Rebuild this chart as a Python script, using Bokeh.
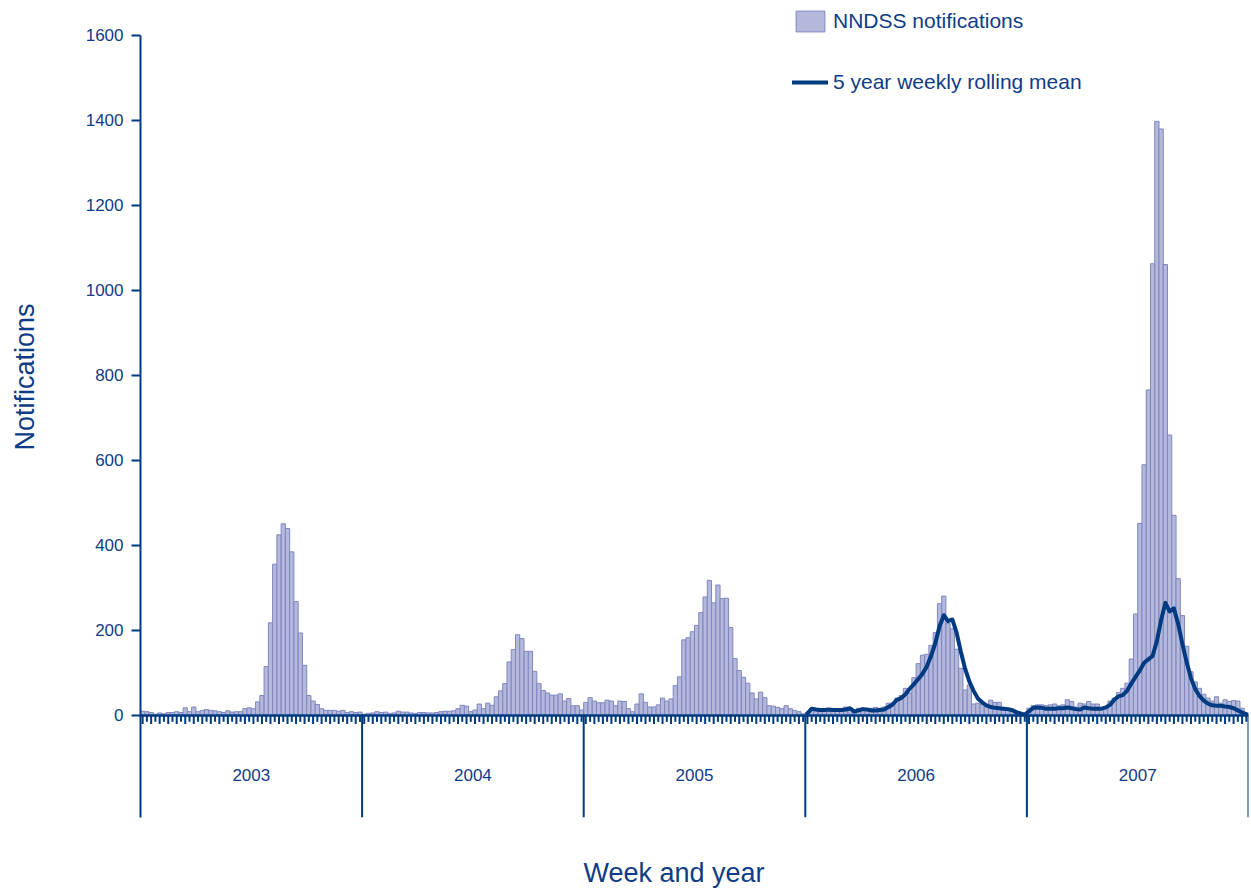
import numpy as np
from bokeh.plotting import figure
from bokeh.models import Range1d, FixedTicker, Span, Legend, LegendItem, Title
from bokeh.core.properties import value
from bokeh.embed import file_html
from bokeh.resources import INLINE

# ---------------- data ----------------
years = ["2003", "2004", "2005", "2006", "2007"]
weeks_per_year = 52

notif_2003 = [10, 9, 7, 3, 6, 4, 7, 7, 9, 7, 18, 9, 20, 9, 12, 14, 12, 11, 9, 7,
              11, 8, 9, 9, 16, 18, 16, 32, 47, 115, 218, 356, 425, 451, 440, 385, 268, 194, 118, 47,
              34, 26, 16, 12, 12, 12, 10, 12, 7, 9, 7, 8]
notif_2004 = [3, 5, 6, 9, 7, 8, 5, 6, 10, 8, 8, 6, 5, 7, 7, 6, 6, 7, 9, 10,
              10, 11, 16, 24, 22, 9, 13, 27, 16, 29, 24, 44, 58, 75, 126, 155, 190, 181, 151, 151,
              104, 75, 59, 53, 48, 48, 51, 34, 40, 23, 23, 13]
notif_2005 = [31, 42, 34, 30, 30, 36, 34, 23, 34, 33, 16, 9, 27, 51, 31, 20, 20, 25, 41, 34,
              39, 70, 91, 178, 183, 197, 212, 242, 279, 318, 265, 307, 275, 276, 207, 134, 106, 90, 76, 53,
              39, 55, 42, 23, 22, 19, 16, 23, 16, 12, 9, 4]
notif_2006 = [7, 17, 16, 14, 15, 15, 15, 14, 15, 20, 15, 13, 17, 17, 16, 17, 19, 17, 20, 29,
              29, 41, 47, 64, 53, 89, 122, 142, 144, 165, 195, 263, 281, 216, 204, 156, 111, 60, 72, 27,
              29, 27, 25, 36, 31, 31, 17, 17, 14, 8, 3, 2]
notif_2007 = [17, 23, 25, 25, 23, 25, 27, 23, 25, 37, 33, 20, 29, 27, 33, 27, 27, 17, 19, 34,
              41, 54, 64, 76, 133, 239, 452, 590, 766, 1063, 1398, 1380, 1061, 660, 471, 322, 235, 163, 103, 79,
              64, 50, 41, 34, 44, 29, 37, 33, 35, 34, 17, 5]

rolling_2006 = [5, 16, 14, 13, 13, 14, 13, 13, 13, 14, 17, 9, 12, 15, 14, 12, 12, 13, 14, 20,
                26, 37, 41, 50, 63, 74, 86, 98, 115, 140, 170, 210, 236, 222, 226, 195, 150, 110, 80, 58,
                40, 31, 24, 20, 18, 17, 16, 15, 13, 8, 5, 2]
rolling_2007 = [10, 18, 19, 18, 16, 16, 16, 17, 17, 19, 17, 15, 14, 19, 17, 16, 16, 16, 19, 25,
                37, 45, 48, 58, 75, 91, 106, 124, 132, 140, 175, 225, 265, 245, 252, 215, 168, 125, 88, 62,
                46, 35, 28, 24, 23, 23, 21, 20, 17, 12, 7, 3]

y_ticks = [0, 200, 400, 600, 800, 1000, 1200, 1400, 1600]

# ---------------- derived ----------------
counts = notif_2003 + notif_2004 + notif_2005 + notif_2006 + notif_2007
n_weeks = len(counts)
xs = np.arange(n_weeks) + 0.5
rolling = [np.nan] * (3 * weeks_per_year) + rolling_2006 + rolling_2007
year_bounds = [weeks_per_year * (i + 1) for i in range(len(years))]
year_centers = [weeks_per_year * (i + 0.5) for i in range(len(years))]

TXT = "#0f3c86"
LINE = "#003a80"
FONT = "Liberation Sans"
Y_BOTTOM = -240

p = figure(width=1251, height=888, title=None, x_axis_location=None,
           x_range=Range1d(0, n_weeks), y_range=Range1d(Y_BOTTOM, 1682.35),
           output_backend="svg", toolbar_location=None,
           min_border_left=140, min_border_right=3, min_border_top=0, min_border_bottom=71)
p.xgrid.visible = False
p.ygrid.visible = False
p.outline_line_color = None
p.background_fill_color = "white"
p.border_fill_color = "white"

bars = p.vbar(x=xs, top=counts, bottom=0, width=1.0,
              fill_color="#b4b8da", line_color="#7f87c0", line_width=1)
ln = p.line(xs, rolling, line_color=LINE, line_width=4, line_join="round", line_cap="round")

# baseline and week ticks
p.add_layout(Span(location=0, dimension="width", line_color=LINE, line_width=2.5))
tick_len = np.where(np.arange(n_weeks) % 2 == 0, 20, 15)
p.segment(x0=xs, y0=np.zeros(n_weeks), x1=xs, y1=-tick_len, line_color=LINE, line_width=2)
# year separators
p.segment(x0=year_bounds, y0=[0] * len(years), x1=year_bounds, y1=[Y_BOTTOM] * len(years),
          line_color=LINE, line_width=2)
# year labels
p.text(x=year_centers, y=[-141] * len(years), text=years, text_align="center",
       text_baseline="middle", text_font=value(FONT), text_font_size=value("17px"),
       text_color=TXT)

# y axis
ya = p.yaxis[0]
ya.ticker = FixedTicker(ticks=y_ticks)
ya.bounds = (Y_BOTTOM, 1600)
ya.axis_line_color = LINE
ya.axis_line_width = 2
ya.major_tick_line_color = LINE
ya.major_tick_line_width = 2
ya.major_tick_in = 0
ya.major_tick_out = 9
ya.minor_tick_line_color = None
ya.major_label_standoff = 8
ya.major_label_text_font = FONT
ya.major_label_text_font_size = "17px"
ya.major_label_text_color = TXT

# axis titles (a blank white spacer title sits between each real title and the frame)
p.add_layout(Title(text="x", text_color="white", text_font_size="10px", standoff=24), "left")
p.add_layout(Title(text="Notifications", align="left", offset=367, standoff=12,
                   vertical_align="bottom", text_font=FONT, text_font_size="27px",
                   text_font_style="normal", text_color=TXT), "left")
p.add_layout(Title(text="x", text_color="white", text_font_size="10px", standoff=25), "below")
p.add_layout(Title(text="Week and year", align="left", offset=443, standoff=1,
                   vertical_align="bottom", text_font=FONT, text_font_size="27px",
                   text_font_style="normal", text_color=TXT), "below")

legend = Legend(items=[LegendItem(label="NNDSS notifications", renderers=[bars]),
                       LegendItem(label="5 year weekly rolling mean", renderers=[ln])],
                location=(652, 722), orientation="vertical",
                glyph_width=36, glyph_height=26, label_standoff=5, spacing=35,
                padding=0, margin=0, border_line_color=None, background_fill_alpha=0,
                label_text_font=FONT, label_text_font_size="21px", label_text_color=TXT)
p.add_layout(legend)

open("out.html", "w").write(file_html(p, INLINE))
